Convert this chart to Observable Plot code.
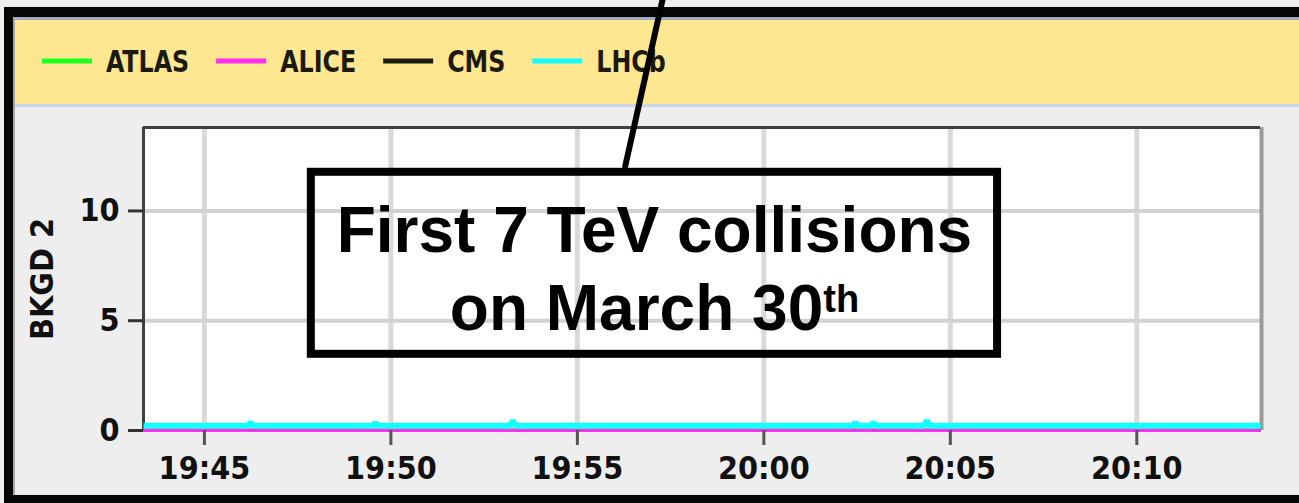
<!DOCTYPE html>
<html><head><meta charset="utf-8">
<script src="https://cdn.jsdelivr.net/npm/d3@7"></script>
<script src="https://cdn.jsdelivr.net/npm/@observablehq/plot@0.6"></script>
<style>
html,body{margin:0;padding:0;background:#eeeeee;}
#wrap{position:relative;width:1299px;height:503px;overflow:hidden;background:#eeeeee;}
.abs{position:absolute;}
#plot svg, #legend{position:absolute;left:0;top:0;}
</style></head><body>
<div id="wrap">
 <div class="abs" style="left:4px;top:7px;right:0;height:10px;background:#060606"></div>
 <div class="abs" style="left:4px;top:7px;width:9px;bottom:0;background:#060606"></div>
 <div class="abs" style="left:4px;top:495px;right:0;bottom:0;background:#060606"></div>
 <div class="abs" style="left:13px;top:17px;right:0;height:3px;background:#9eacbf"></div>
 <div class="abs" style="left:13px;top:17px;width:2px;bottom:8px;background:#a8a8a8"></div>
 <div class="abs" style="left:15px;top:20px;right:0;height:84px;background:#ffe690"></div>
 <div class="abs" style="left:15px;top:104px;right:0;height:3px;background:#c9d6e8"></div>
 <svg id="legend" width="1299" height="120"></svg>
 <div id="plot"></div>
</div>
<script>
// ---- data ----
const day = "2010-03-30";
const seriesNames = ["ATLAS", "ALICE", "CMS", "LHCb"];
const seriesColors = ["#1eff1e", "#ff30f0", "#1c1a10", "#12ffff"];
const xDomainTimes = ["19:43:22", "20:13:19"];
const yDomainValues = [0, 13.8];
const xTickTimes = ["19:45", "19:50", "19:55", "20:00", "20:05", "20:10"];
const yTickValues = [0, 5, 10];
const yLabel = "BKGD 2";

const atlasTimes = ["19:43:22", "19:58:00", "20:13:19"];
const atlasValues = [0.02, 0.02, 0.02];
const cmsTimes = ["19:43:22", "19:58:00", "20:13:19"];
const cmsValues = [0.01, 0.01, 0.01];
const aliceTimes = ["19:43:22", "19:58:00", "20:13:19"];
const aliceValues = [0, 0, 0];
const lhcbTimes = ["19:43:22", "19:46:10", "19:46:14", "19:46:18", "19:49:31", "19:49:35", "19:49:39",
  "19:53:12", "19:53:16", "19:53:20", "20:02:23", "20:02:27", "20:02:31", "20:02:52", "20:02:56",
  "20:03:00", "20:04:18", "20:04:22", "20:04:26", "20:13:19"];
const lhcbValues = [0.22, 0.22, 0.36, 0.22, 0.22, 0.34, 0.22,
  0.22, 0.45, 0.22, 0.22, 0.36, 0.22, 0.22, 0.36,
  0.22, 0.22, 0.45, 0.22, 0.22];

const noteLines = ["First 7 TeV collisions", "on March 30"];
const noteSup = "th";
const noteLineTimes = ["19:57:04", "19:57:04"];
const noteLineValues = [9.05, 5.5];
const noteBoxTimes = ["19:47:52", "20:06:16"];
const noteBoxValues = [3.47, 11.76];
const pointerTimes = ["19:56:17", "19:57:20"];
const pointerValues = [12.04, 20];

// ---- build ----
const T = s => new Date(`${day}T${s.length === 5 ? s + ":00" : s}Z`);
const rows = (name, times, values) => times.map((t, i) => ({series: name, time: T(t), value: values[i]}));
const seriesData = {
  ATLAS: rows("ATLAS", atlasTimes, atlasValues),
  CMS: rows("CMS", cmsTimes, cmsValues),
  LHCb: rows("LHCb", lhcbTimes, lhcbValues),
  ALICE: rows("ALICE", aliceTimes, aliceValues)
};
const widths = {ATLAS: 3, CMS: 3, LHCb: 6, ALICE: 3};
const xDomain = xDomainTimes.map(T);
const xTicks = xTickTimes.map(T);
const font = '"DejaVu Sans Condensed","DejaVu Sans",sans-serif';

const lines = ["ATLAS", "CMS", "LHCb", "ALICE"].map(k =>
  Plot.line(seriesData[k], {x: "time", y: "value", stroke: "series", strokeWidth: widths[k], strokeLinecap: "butt", strokeLinejoin: "miter"}));

const noteText = noteLines.map((s, i) => ({text: s, time: T(noteLineTimes[i]), value: noteLineValues[i]}));
const noteBox = [{t1: T(noteBoxTimes[0]), t2: T(noteBoxTimes[1]), v1: noteBoxValues[0], v2: noteBoxValues[1]}];
const pointer = pointerTimes.map((t, i) => ({time: T(t), value: pointerValues[i]}));

const chart = Plot.plot({
  width: 1299, height: 503,
  marginLeft: 143, marginRight: 39, marginTop: 127, marginBottom: 73,
  style: {background: "transparent", fontFamily: font, fontSize: "32px", fontWeight: "bold", fontStretch: "condensed", color: "#111"},
  x: {type: "utc", domain: xDomain, label: null},
  y: {domain: yDomainValues, label: null},
  color: {domain: seriesNames, range: seriesColors},
  marks: [
    Plot.frame({fill: "white", stroke: "none"}),
    Plot.gridX({ticks: xTicks, stroke: "#d9d9d9", strokeOpacity: 1, strokeWidth: 5}),
    Plot.gridY({ticks: [5, 10], stroke: "#d2d2d2", strokeOpacity: 1, strokeWidth: 4}),
    Plot.ruleX([xDomain[1]], {stroke: "#9a9a9a", strokeWidth: 4, dx: 1}),
    Plot.ruleX([xDomain[0]], {stroke: "#404040", strokeWidth: 3}),
    Plot.ruleY([yDomainValues[1]], {stroke: "#404040", strokeWidth: 3}),
    ...lines,
    Plot.axisX({ticks: xTicks, tickFormat: d3.utcFormat("%H:%M"), tickSize: 15, tickPadding: 11, stroke: "#555", fill: "#111", strokeWidth: 3, label: null}),
    Plot.axisY({ticks: yTickValues, tickSize: 15, tickPadding: 9, stroke: "#333", fill: "#111", strokeWidth: 3,
      label: yLabel, labelAnchor: "center", labelOffset: 113, labelArrow: "none"}),
    Plot.rect(noteBox, {x1: "t1", x2: "t2", y1: "v1", y2: "v2", fill: "none", stroke: "black", strokeWidth: 8}),
    Plot.line(pointer, {x: "time", y: "value", stroke: "black", strokeWidth: 6}),
    Plot.text(noteText, {x: "time", y: "value", text: "text", fontFamily: '"Liberation Sans", Arial, sans-serif',
      fontSize: 64, fontWeight: "bold", fill: "black"})
  ]
});
document.getElementById("plot").appendChild(chart);

// superscript
d3.select(chart).selectAll("text").filter(function() { return this.textContent === noteLines[1]; })
  .append("tspan").attr("dy", -18).attr("font-size", 38).text(noteSup);

// legend
const leg = d3.select("#legend");
let lx = 42;
seriesNames.forEach((name, i) => {
  leg.append("line").attr("x1", lx).attr("x2", lx + 50).attr("y1", 61).attr("y2", 61)
    .attr("stroke", seriesColors[i]).attr("stroke-width", 5);
  const t = leg.append("text").attr("transform", `translate(${lx + 64},72) scale(0.88,1)`)
    .attr("font-family", font).attr("font-size", 30).attr("font-weight", "bold")
    .style("font-stretch", "condensed").attr("fill", "#1a1a10").text(name);
  const w = t.node().getComputedTextLength() * 0.88;
  lx += 64 + w + 27;
});
</script>
</body></html>
